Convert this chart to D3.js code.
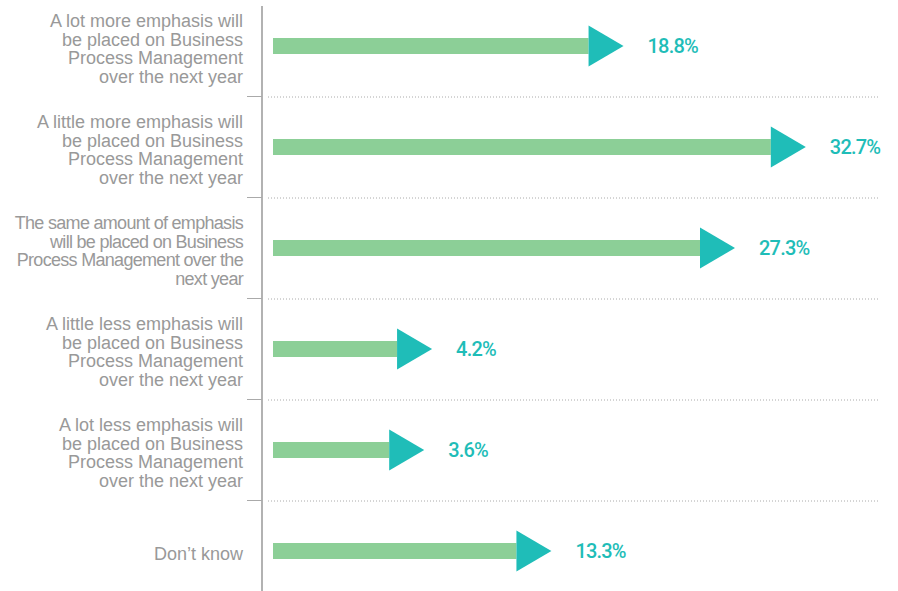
<!DOCTYPE html>
<html lang="en">
<head>
    <meta charset="UTF-8">
    <title>Business Process Management emphasis</title>
    <style>
        body {
            margin: 0;
            background: #fff;
        }
        .label {
            font-family: "Liberation Sans", Arial, sans-serif;
            font-size: 18px;
            fill: #999;
            letter-spacing: 0px;
        }
        .label.tight {
            letter-spacing: -0.7px;
        }
        .value {
            font-family: Roboto, sans-serif;
            font-weight: 500;
            font-size: 20px;
            fill: #1fbdb8;
            letter-spacing: -0.8px;
        }
        .sep {
            stroke: #aaa;
            stroke-width: 1;
            stroke-dasharray: 1,2;
        }
    </style>
</head>
<body>
<svg id="chart" width="898" height="591"></svg>

<script src="https://d3js.org/d3.v7.min.js"></script>
<script>
const categories = [
    ['A lot more emphasis will', 'be placed on Business', 'Process Management', 'over the next year'],
    ['A little more emphasis will', 'be placed on Business', 'Process Management', 'over the next year'],
    ['The same amount of emphasis', 'will be placed on Business', 'Process Management over the', 'next year'],
    ['A little less emphasis will', 'be placed on Business', 'Process Management', 'over the next year'],
    ['A lot less emphasis will', 'be placed on Business', 'Process Management', 'over the next year'],
    ["Don\u2019t know"]
];
const values = [18.8, 32.7, 27.3, 4.2, 3.6, 13.3];
const valueLabels = ['18.8%', '32.7%', '27.3%', '4.2%', '3.6%', '13.3%'];

const svg = d3.select('#chart');

const axisX = 262;
const barStart = 273;
const headLen = 35;
const headHalf = 20.5;
const shaft = 16;
const lineH = 18.7;

const y = d3.scaleBand()
    .domain(d3.range(categories.length))
    .range([-4.5, 601.5]);

// tip of each arrow
const x = d3.scaleLinear()
    .domain([0, 35])
    .range([377, 836]);

// vertical axis
svg.append('line')
    .attr('x1', axisX).attr('x2', axisX)
    .attr('y1', 6).attr('y2', 591)
    .attr('stroke', '#999')
    .attr('stroke-width', 1.5);

// separators between rows
const bounds = d3.range(1, categories.length).map(i => y(i));
svg.append('g').selectAll('line.tick')
    .data(bounds)
    .enter().append('line')
    .attr('class', 'tick')
    .attr('x1', 247).attr('x2', axisX)
    .attr('y1', d => d).attr('y2', d => d)
    .attr('stroke', '#aaa')
    .attr('stroke-width', 1);

svg.append('g').selectAll('line.sep')
    .data(bounds)
    .enter().append('line')
    .attr('class', 'sep')
    .attr('x1', 268).attr('x2', 880)
    .attr('y1', d => d + 0.5).attr('y2', d => d + 0.5);

const rows = svg.append('g').selectAll('g')
    .data(values)
    .enter().append('g')
    .attr('transform', (d, i) => `translate(0,${y(i) + y.bandwidth() / 2})`);

// shaft
rows.append('rect')
    .attr('x', barStart)
    .attr('y', -shaft / 2)
    .attr('width', d => x(d) - headLen - barStart)
    .attr('height', shaft)
    .attr('fill', '#8ccf97');

// arrow head
rows.append('path')
    .attr('d', d => {
        const t = x(d);
        return `M${t - headLen},${-headHalf}L${t},0L${t - headLen},${headHalf}Z`;
    })
    .attr('fill', '#1fbdb8');

rows.append('text')
    .attr('class', 'value')
    .attr('x', d => x(d) + 24)
    .attr('y', 7)
    .text((d, i) => valueLabels[i]);

// category labels
rows.each(function (d, i) {
    const lines = categories[i];
    const t = d3.select(this).append('text')
        .attr('class', i === 2 ? 'label tight' : 'label')
        .attr('text-anchor', 'end');
    lines.forEach((s, k) => {
        t.append('tspan')
            .attr('x', 243)
            .attr('y', (k - (lines.length - 1) / 2) * lineH + 9)
            .text(s);
    });
});
</script>
</body>
</html>
